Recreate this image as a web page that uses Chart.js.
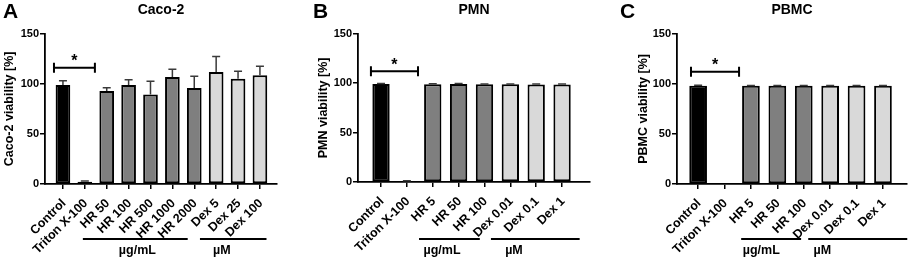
<!DOCTYPE html>
<html lang="en">
<head>
<meta charset="UTF-8">
<title>Viability</title>
<script src="https://cdn.jsdelivr.net/npm/chart.js"></script>
<style>
  body { margin: 0; background: #fff; }
  .painel { position: absolute; top: 0; height: 261px; }
</style>
</head>
<body>
<div class="painel" style="left:0;width:300px"><canvas id="chartA" width="300" height="261"></canvas></div>
<div class="painel" style="left:300px;width:310px"><canvas id="chartB" width="310" height="261"></canvas></div>
<div class="painel" style="left:610px;width:303px"><canvas id="chartC" width="303" height="261"></canvas></div>

<script>
// dados
const cacoLabels = ['Control', 'Triton X-100', 'HR 50', 'HR 100', 'HR 500', 'HR 1000', 'HR 2000', 'Dex 5', 'Dex 25', 'Dex 100'];
const cacoValues = [98.9, 2.3, 92.9, 98.9, 89.3, 106.9, 95.9, 111.8, 105.2, 108.5];
const cacoErrors = [4.3, 0.7, 3.3, 5.3, 13.3, 7.6, 11.6, 15.6, 7.3, 9.0];
const cacoGroups = ['ctrl', 'ctrl', 'hr', 'hr', 'hr', 'hr', 'hr', 'dex', 'dex', 'dex'];

const pmnLabels = ['Control', 'Triton X-100', 'HR 5', 'HR 50', 'HR 100', 'Dex 0.01', 'Dex 0.1', 'Dex 1'];
const pmnValues = [99.2, 1.0, 99.0, 99.3, 99.0, 99.0, 98.8, 98.8];
const pmnErrors = [0.4, 0.3, 0.4, 0.3, 0.3, 0.3, 0.4, 0.4];
const pmnGroups = ['ctrl', 'ctrl', 'hr', 'hr', 'hr', 'dex', 'dex', 'dex'];

const pbmcLabels = ['Control', 'Triton X-100', 'HR 5', 'HR 50', 'HR 100', 'Dex 0.01', 'Dex 0.1', 'Dex 1'];
const pbmcValues = [98.2, 0, 98.0, 98.0, 98.0, 98.0, 98.0, 98.0];
const pbmcErrors = [0.4, 0, 0.4, 0.4, 0.4, 0.4, 0.4, 0.4];
const pbmcGroups = ['ctrl', 'ctrl', 'hr', 'hr', 'hr', 'dex', 'dex', 'dex'];

const yTicks = [0, 50, 100, 150];
const unitLabels = ['µg/mL', 'µM'];

const cores = { ctrl: '#000000', hr: '#7f7f7f', dex: '#d9d9d9' };
const fonte = '"Liberation Sans", Arial, sans-serif';

// layout de cada painel (pixels e posicoes em unidades do eixo x)
const paineis = [
    {
        canvas: 'chartA', letra: 'A', titulo: 'Caco-2', eixoY: 'Caco-2 viability [%]',
        labels: cacoLabels, valores: cacoValues, erros: cacoErrors, grupos: cacoGroups,
        xMin: -0.82, xMax: 9.78, esquerda: 45, direita: 23, alturaX: 77, tituloPad: 2.5,
        letraX: 3, chave: { de: -0.41, ate: 1.46, y: 116 },
        unidades: [{ de: 0.91, ate: 5.7, texto: 3.4 }, { de: 6.26, ate: 9.3, texto: 7.26 }]
    },
    {
        canvas: 'chartB', letra: 'B', titulo: 'PMN', eixoY: 'PMN viability [%]',
        labels: pmnLabels, valores: pmnValues, erros: pmnErrors, grupos: pmnGroups,
        xMin: -0.89, xMax: 8.08, esquerda: 58, direita: 20, alturaX: 79, tituloPad: 16,
        letraX: 13, chave: { de: -0.39, ate: 1.43, y: 112 },
        unidades: [{ de: 1.47, ate: 3.82, texto: 2.36 }, { de: 4.25, ate: 7.68, texto: 5.14 }]
    },
    {
        canvas: 'chartC', letra: 'C', titulo: 'PBMC', eixoY: 'PBMC viability [%]',
        labels: pbmcLabels, valores: pbmcValues, erros: pbmcErrors, grupos: pbmcGroups,
        xMin: -0.8, xMax: 7.91, esquerda: 67, direita: 6, alturaX: 77, tituloPad: 26,
        letraX: 10, chave: { de: -0.27, ate: 1.55, y: 112 },
        unidades: [{ de: 1.63, ate: 3.9, texto: 2.39 }, { de: 4.17, ate: 7.92, texto: 4.7 }]
    }
];

// plugin: barras de erro, chave de significancia, letras e unidades
const extras = {
    id: 'extras',
    afterDatasetsDraw(chart, args, opts) {
        const p = opts.painel;
        const ctx = chart.ctx;
        const x = chart.scales.x;
        const y = chart.scales.y;
        ctx.save();

        // barras de erro (so para cima)
        ctx.strokeStyle = '#3a3a3a';
        ctx.lineWidth = 1.5;
        p.valores.forEach(function (v, i) {
            if (!p.erros[i]) return;
            const px = x.getPixelForValue(i);
            const y0 = y.getPixelForValue(v);
            const y1 = y.getPixelForValue(v + p.erros[i]);
            ctx.beginPath();
            ctx.moveTo(px, y0);
            ctx.lineTo(px, y1);
            ctx.moveTo(px - 4, y1);
            ctx.lineTo(px + 4, y1);
            ctx.stroke();
        });

        // chave com asterisco
        const c = p.chave;
        const cx0 = x.getPixelForValue(c.de);
        const cx1 = x.getPixelForValue(c.ate);
        const cy = y.getPixelForValue(c.y);
        ctx.strokeStyle = '#000';
        ctx.lineWidth = 2;
        ctx.beginPath();
        ctx.moveTo(cx0, cy);
        ctx.lineTo(cx1, cy);
        ctx.moveTo(cx0, cy - 5);
        ctx.lineTo(cx0, cy + 5);
        ctx.moveTo(cx1, cy - 5);
        ctx.lineTo(cx1, cy + 5);
        ctx.stroke();
        ctx.fillStyle = '#000';
        ctx.font = 'bold 16px ' + fonte;
        ctx.textAlign = 'center';
        ctx.textBaseline = 'middle';
        ctx.fillText('*', (cx0 + cx1) / 2, cy - 6);

        // linhas das unidades
        ctx.lineWidth = 1.8;
        ctx.font = 'bold 12.5px ' + fonte;
        p.unidades.forEach(function (u, k) {
            ctx.beginPath();
            ctx.moveTo(x.getPixelForValue(u.de), 239);
            ctx.lineTo(x.getPixelForValue(u.ate), 239);
            ctx.stroke();
            ctx.fillText(unitLabels[k], x.getPixelForValue(u.texto), 251);
        });

        // letra do painel
        ctx.font = 'bold 21px ' + fonte;
        ctx.textAlign = 'left';
        ctx.fillText(p.letra, p.letraX, 12);
        ctx.restore();
    }
};

function criarGrafico(p) {
    const dados = {
        datasets: [{
            data: p.valores.map(function (v, i) { return { x: i, y: v }; }),
            backgroundColor: p.grupos.map(function (g) { return cores[g]; }),
            borderColor: '#000',
            borderWidth: 2,
            borderSkipped: false,
            barPercentage: 1,
            categoryPercentage: 0.67
        }]
    };

    const config = {
        type: 'bar',
        data: dados,
        plugins: [extras],
        options: {
            responsive: false,
            animation: false,
            layout: { padding: { left: 0, right: p.direita, top: 0, bottom: 0 } },
            plugins: {
                legend: { display: false },
                tooltip: { enabled: false },
                title: {
                    display: true,
                    text: p.titulo,
                    fullSize: false,
                    color: '#000',
                    font: { family: fonte, size: 14, weight: 'bold' },
                    padding: { top: 2, bottom: 15 }
                },
                extras: { painel: p }
            },
            scales: {
                x: {
                    type: 'linear',
                    offset: false,
                    min: p.xMin,
                    max: p.xMax,
                    afterBuildTicks: function (axis) {
                        axis.ticks = p.labels.map(function (l, i) { return { value: i }; });
                    },
                    afterFit: function (axis) { axis.height = p.alturaX; },
                    border: { color: '#000', width: 1.8 },
                    grid: { offset: false, drawOnChartArea: false, color: '#000', lineWidth: 1.5, tickLength: 5 },
                    ticks: {
                        autoSkip: false,
                        minRotation: 45,
                        maxRotation: 45,
                        padding: 7,
                        labelOffset: 1,
                        color: '#000',
                        font: { family: fonte, size: 12.5, weight: 'bold' },
                        callback: function (v) { return p.labels[v]; }
                    }
                },
                y: {
                    min: 0,
                    max: 150,
                    afterBuildTicks: function (axis) {
                        axis.ticks = yTicks.map(function (t) { return { value: t }; });
                    },
                    afterFit: function (axis) { axis.width = p.esquerda; },
                    border: { color: '#000', width: 1.8 },
                    grid: { drawOnChartArea: false, color: '#000', lineWidth: 1.5, tickLength: 5 },
                    ticks: {
                        padding: 1,
                        color: '#000',
                        font: { family: fonte, size: 11, weight: 'bold' }
                    },
                    title: {
                        display: true,
                        text: p.eixoY,
                        color: '#000',
                        font: { family: fonte, size: 12.5, weight: 'bold' },
                        padding: { top: p.tituloPad, bottom: 0 }
                    }
                }
            }
        }
    };

    return new Chart(document.getElementById(p.canvas), config);
}

paineis.forEach(criarGrafico);
</script>
</body>
</html>
